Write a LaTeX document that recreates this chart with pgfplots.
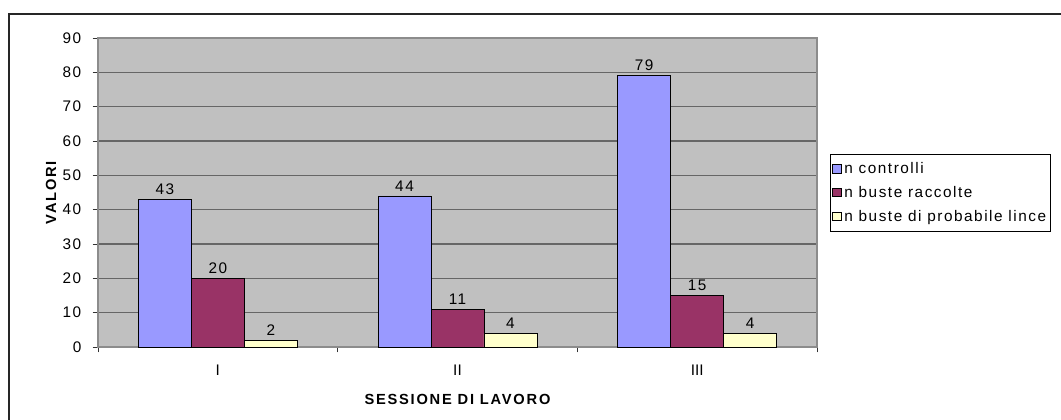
\documentclass[border=0pt]{standalone}
\usepackage{pgfplots}
\pgfplotsset{compat=1.18}
\usepackage{fontspec}
\setmainfont{Liberation Sans}[LetterSpace=10]
\newfontfamily\titlefont{Liberation Sans}[LetterSpace=12]
\newfontfamily\romanfont{Liberation Sans}[LetterSpace=0]

\definecolor{plotbg}{HTML}{C0C0C0}
\definecolor{barblue}{HTML}{9999FF}
\definecolor{barplum}{HTML}{993366}
\definecolor{barcream}{HTML}{FFFFCC}

\begin{document}
\begin{tikzpicture}
\useasboundingbox (0,0) rectangle (795.75pt,314.25pt);
\clip (0,0) rectangle (795.75pt,314.25pt);
% chart frame (top and left edges)
\draw[line width=1pt, black!85] (6.75pt,-2pt) -- (6.75pt,303.75pt) -- (800pt,303.75pt);
\begin{axis}[
  at={(73.5pt,54pt)}, anchor=south west,
  scale only axis, width=539.25pt, height=231.75pt,
  xmin=0.5, xmax=3.5, ymin=0, ymax=90,
  ytick={0,10,...,90},
  xtick={1,2,3}, xticklabels={{\romanfont I},{\romanfont II},{\romanfont III}},
  minor xtick={0.5,1.5,2.5,3.5},
  major x tick style={draw=none},
  tick align=outside, tick pos=left,
  major tick length=4pt, minor tick length=4pt,
  tick style={black!80, line width=0.6pt},
  ymajorgrids, grid style={black!60, line width=0.9pt},
  axis background/.style={fill=plotbg},
  axis line style={black!45, line width=0.8pt},
  ybar=0pt, bar width=0.221,
  every axis plot/.append style={draw=black, line width=0.6pt},
  /pgf/number format/assume math mode=true,
  nodes near coords,
  every node near coord/.append style={font=\fontsize{11.5}{13}\selectfont, black},
  tick label style={font=\fontsize{11.5}{13}\selectfont},
  yticklabel style={xshift=-5pt},
  xticklabel style={yshift=-6pt},
  ylabel={\titlefont\bfseries VALORI},
  xlabel={\titlefont\bfseries SESSIONE DI LAVORO},
  label style={font=\fontsize{11}{13}\selectfont},
  ylabel style={yshift=-2pt},
  xlabel style={yshift=-7pt},
  legend style={at={(1.018,0.6246)}, anchor=north west, draw=black, fill=white,
    line width=0.6pt, font=\fontsize{11.5}{13}\selectfont,
    inner xsep=1.5pt, inner ysep=4pt,
    row sep=4pt, legend cell align=left},
  legend image code/.code={\draw[#1, line width=0.5pt] (0pt,-3pt) rectangle (6.5pt,3.5pt);},
]
\addplot[fill=barblue] coordinates {(1,43) (2,44) (3,79)};
\addplot[fill=barplum] coordinates {(1,20) (2,11) (3,15)};
\addplot[fill=barcream] coordinates {(1,2) (2,4) (3,4)};
\legend{n controlli, n buste raccolte, n buste di probabile lince}
\end{axis}
\end{tikzpicture}
\end{document}
